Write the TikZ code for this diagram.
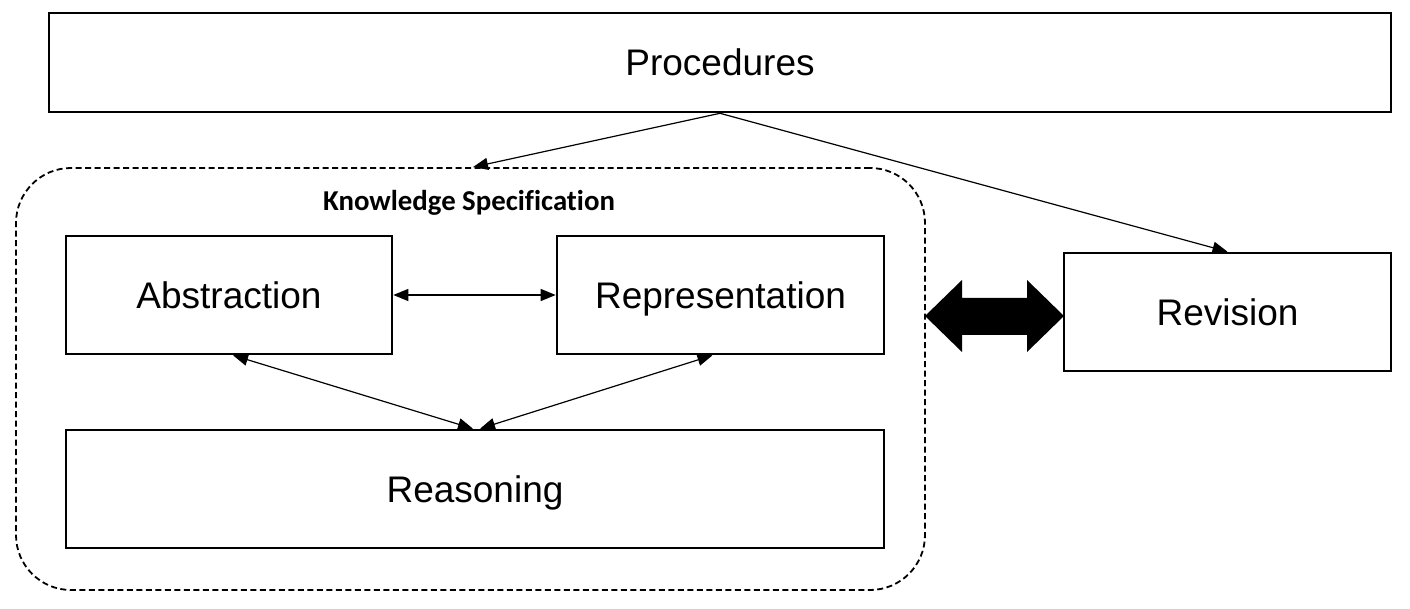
\documentclass[tikz,border=0pt]{standalone}
\usepackage{fontspec}
\setmainfont{Liberation Sans}
\newfontfamily\calfont[Ligatures=NoCommon]{Carlito}
\usetikzlibrary{arrows.meta,calc}
\begin{document}
\begin{tikzpicture}[x=1pt,y=-1pt,
  box/.style={draw,line width=2.6pt,rectangle,inner sep=0pt,text height=26.5pt,text depth=0pt,font=\fontsize{37}{44}\selectfont},
  conn/.style={line width=1.2pt,-{Triangle[length=15pt,width=12pt]}},
  biconn/.style={line width=1.2pt,{Triangle[length=15pt,width=12pt]}-{Triangle[length=15pt,width=12pt]}}]
\useasboundingbox (0,0) rectangle (1410,609);
\node[draw,line width=1.8pt,dash pattern=on 6pt off 3.5pt,rounded corners=55pt,minimum width=909pt,minimum height=422pt,inner sep=0pt] (ks) at (470.5,379) {};
\node[font=\calfont\bfseries\fontsize{28.8}{34}\selectfont] (kslab) at (469,203) {Knowledge Specification};
\node[box,minimum width=1342pt,minimum height=99pt] (proc) at (720,62.5) {Procedures};
\node[box,minimum width=326pt,minimum height=118pt] (abs) at (229,295) {Abstraction};
\node[box,minimum width=327pt,minimum height=118pt] (rep) at (720.5,295) {Representation};
\node[box,minimum width=818pt,minimum height=118pt] (reas) at (475,489) {Reasoning};
\node[box,minimum width=327pt,minimum height=118pt] (rev) at (1227.5,312) {Revision};
\coordinate (ksin) at ($(ks.north)+(2.5,0)$);
\draw[conn] (proc.south) -- (ksin);
\draw[conn] (proc.south) -- (rev.north);
\draw[biconn] (abs.east) -- (rep.west);
\draw[biconn] ($(abs.south)+(4,0)$) -- ($(reas.north)+(-2,0)$);
\draw[biconn] ($(rep.south)+(-8,0)$) -- ($(reas.north)+(5,0)$);
\fill (925,316) -- (962,280) -- (962,298) -- (1027,298) -- (1027,280) -- (1064,316) -- (1027,352) -- (1027,335) -- (962,335) -- (962,352) -- cycle;
\end{tikzpicture}
\end{document}
